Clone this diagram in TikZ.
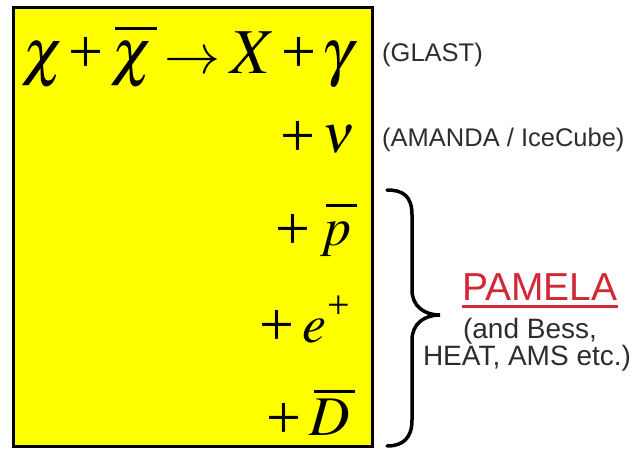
\documentclass[tikz,border=0pt]{standalone}
\usepackage{mathptmx}
\usepackage{fontspec}
\newfontfamily\labfont{Liberation Sans}
\newfontfamily\serif{Liberation Serif}
\definecolor{boxyellow}{RGB}{255,255,0}
\definecolor{pamred}{RGB}{208,40,52}
\definecolor{labgray}{RGB}{45,45,45}
% plus sign at fixed size, raised by #1
\newcommand\pls[1]{\raisebox{#1}{\fontsize{62}{62}\selectfont\serif +}}
% overline: shift #1, height #2, content #3
\newcommand\ovl[3]{\setbox0\hbox{#3}\rlap{\hspace{#1}\rule[#2]{\wd0}{3pt}}\box0}
\begin{document}
\begin{tikzpicture}[x=1pt,y=-1pt,
  mathline/.style={anchor=base east, inner sep=0pt},
  lab/.style={font=\labfont\fontsize{25.5}{28}\selectfont, text=labgray, inner sep=0pt},
  note/.style={font=\labfont\fontsize{28}{30}\selectfont, text=labgray, inner sep=0pt}]
\useasboundingbox (0,0) rectangle (639,449);
\draw[line width=3pt, fill=boxyellow] (13,8) rectangle (372,446);
\node[mathline, font=\fontsize{64}{70}\selectfont] (l1) at (353,74)
  {$\chi$\hspace{4pt}\pls{1pt}\hspace{8pt}\ovl{4pt}{44pt}{$\chi$}\hspace{11pt}{\fontsize{56}{56}\selectfont$\rightarrow$}\hspace{10pt}$X$\hspace{6pt}\pls{1pt}\hspace{5pt}$\gamma$};
\node[mathline, font=\fontsize{54}{60}\selectfont] (l2) at (355,153) {\pls{-4pt}\hspace{7pt}$\nu$};
\node[mathline, font=\fontsize{54}{60}\selectfont] (l3) at (352,245) {\pls{-4pt}\hspace{10pt}\ovl{5pt}{38pt}{$p$}};
\node[mathline, font=\fontsize{54}{60}\selectfont] (l4) at (350,342) {\pls{-3pt}\hspace{8pt}$e$\hspace{1pt}\raisebox{24pt}{\fontsize{40}{40}\selectfont\serif +}};
\node[mathline, font=\fontsize{56}{60}\selectfont] (l5) at (350,435) {\pls{-3pt}\hspace{8pt}\ovl{5pt}{42pt}{$D$}};
\node[lab, anchor=west] (glast) at (382,55) {(GLAST)};
\node[lab, anchor=west] (amanda) at (382,140) {(AMANDA / IceCube)};
\node[font=\labfont\fontsize{39}{42}\selectfont, text=pamred, inner sep=0pt] (pamela) at (540,287) {PAMELA};
\draw[pamred, line width=3pt] (pamela.south west) ++(0,6) coordinate (ul1) -- (pamela.south east |- ul1);
\node[note] (bess) at (530,331) {(and Bess,};
\node[note] (heat) at (527,358) {HEAT, AMS etc.)};
\coordinate (bt) at (387,190);
\coordinate (btip) at (440,315);
\coordinate (bb) at (387,446);
\draw[line width=3.5pt, line cap=round]
  (bt) .. controls (403,190) and (412,196) .. (412,215)
  -- (412,290) .. controls (412,306) and (424,315) .. (btip)
  .. controls (424,315) and (412,324) .. (412,340)
  -- (412,420) .. controls (412,438) and (403,446) .. (bb);
\end{tikzpicture}
\end{document}
